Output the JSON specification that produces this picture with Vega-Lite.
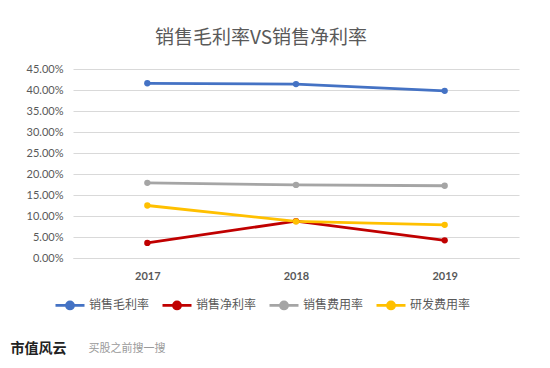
{
  "$schema": "https://vega.github.io/schema/vega-lite/v6.json",
  "width": 446,
  "height": 189,
  "autosize": {"type": "none"},
  "padding": {"left": 73, "top": 69, "right": 31, "bottom": 110},
  "background": "#ffffff",
  "title": {
    "text": "销售毛利率VS销售净利率",
    "font": "Noto Sans CJK SC",
    "fontSize": 19,
    "fontWeight": "normal",
    "color": "#595959",
    "anchor": "middle",
    "frame": "group",
    "dx": -35,
    "offset": 15
  },
  "data": {
    "values": [
      {"year": "2017", "series": "销售毛利率", "value": 0.416},
      {"year": "2018", "series": "销售毛利率", "value": 0.414},
      {"year": "2019", "series": "销售毛利率", "value": 0.398},
      {"year": "2017", "series": "销售净利率", "value": 0.036},
      {"year": "2018", "series": "销售净利率", "value": 0.088},
      {"year": "2019", "series": "销售净利率", "value": 0.042},
      {"year": "2017", "series": "销售费用率", "value": 0.179},
      {"year": "2018", "series": "销售费用率", "value": 0.174},
      {"year": "2019", "series": "销售费用率", "value": 0.172},
      {"year": "2017", "series": "研发费用率", "value": 0.125},
      {"year": "2018", "series": "研发费用率", "value": 0.087},
      {"year": "2019", "series": "研发费用率", "value": 0.079}
    ]
  },
  "encoding": {
    "x": {
      "field": "year",
      "type": "ordinal",
      "scale": {"type": "point", "padding": 0.5},
      "axis": {
        "title": "买股之前搜一搜",
        "titleX": 15,
        "titleY": 90,
        "titleAlign": "left",
        "titleBaseline": "middle",
        "titleAnchor": null,
        "titleFont": "Noto Sans CJK SC",
        "titleFontSize": 11,
        "titleFontWeight": "normal",
        "titleColor": "#9a9a9a",
        "labelAngle": 0,
        "labelFont": "Lato",
        "labelFontSize": 11,
        "labelFontWeight": "bold",
        "labelColor": "#595959",
        "labelPadding": 12,
        "ticks": false,
        "domain": true,
        "domainColor": "#d9d9d9",
        "grid": false
      }
    },
    "y": {
      "field": "value",
      "type": "quantitative",
      "scale": {"domain": [0, 0.45], "nice": false},
      "axis": {
        "title": "市值风云",
        "titleX": -63,
        "titleY": 279,
        "titleAngle": 0,
        "titleAlign": "left",
        "titleBaseline": "middle",
        "titleAnchor": null,
        "titleFont": "Noto Sans CJK SC",
        "titleFontSize": 14,
        "titleFontWeight": "bold",
        "titleColor": "#222222",
        "values": [0, 0.05, 0.1, 0.15, 0.2, 0.25, 0.3, 0.35, 0.4, 0.45],
        "format": ".2%",
        "labelFont": "Lato",
        "labelFontSize": 11,
        "labelColor": "#595959",
        "labelPadding": 10,
        "ticks": false,
        "domain": false,
        "grid": true,
        "gridColor": "#d9d9d9",
        "gridWidth": 1
      }
    },
    "color": {
      "field": "series",
      "type": "nominal",
      "sort": ["销售毛利率", "销售净利率", "销售费用率", "研发费用率"],
      "scale": {
        "domain": ["销售毛利率", "销售净利率", "销售费用率", "研发费用率"],
        "range": ["#4472C4", "#C00000", "#A5A5A5", "#FFC000"]
      },
      "legend": {
        "title": null,
        "orient": "none",
        "legendX": -19,
        "legendY": 220,
        "direction": "horizontal",
        "columns": 4,
        "columnPadding": 6,
        "symbolType": "M-1,0L1,0M-0.24,0A0.24,0.24 0 1,0 0.24,0A0.24,0.24 0 1,0 -0.24,0Z",
        "symbolSize": 841,
        "symbolStrokeWidth": 2.8,
        "labelFont": "Noto Sans CJK SC",
        "labelFontSize": 12,
        "labelColor": "#595959",
        "labelOffset": 3,
        "encode": {
          "symbols": {
            "update": {
              "fill": {"scale": "color", "field": "value"},
              "stroke": {"scale": "color", "field": "value"},
              "opacity": {"value": 1}
            }
          }
        }
      }
    }
  },
  "layer": [
    {"mark": {"type": "line", "strokeWidth": 2.8}},
    {"mark": {"type": "point", "filled": true, "size": 40, "opacity": 1}}
  ],
  "config": {
    "view": {"stroke": null}
  }
}
